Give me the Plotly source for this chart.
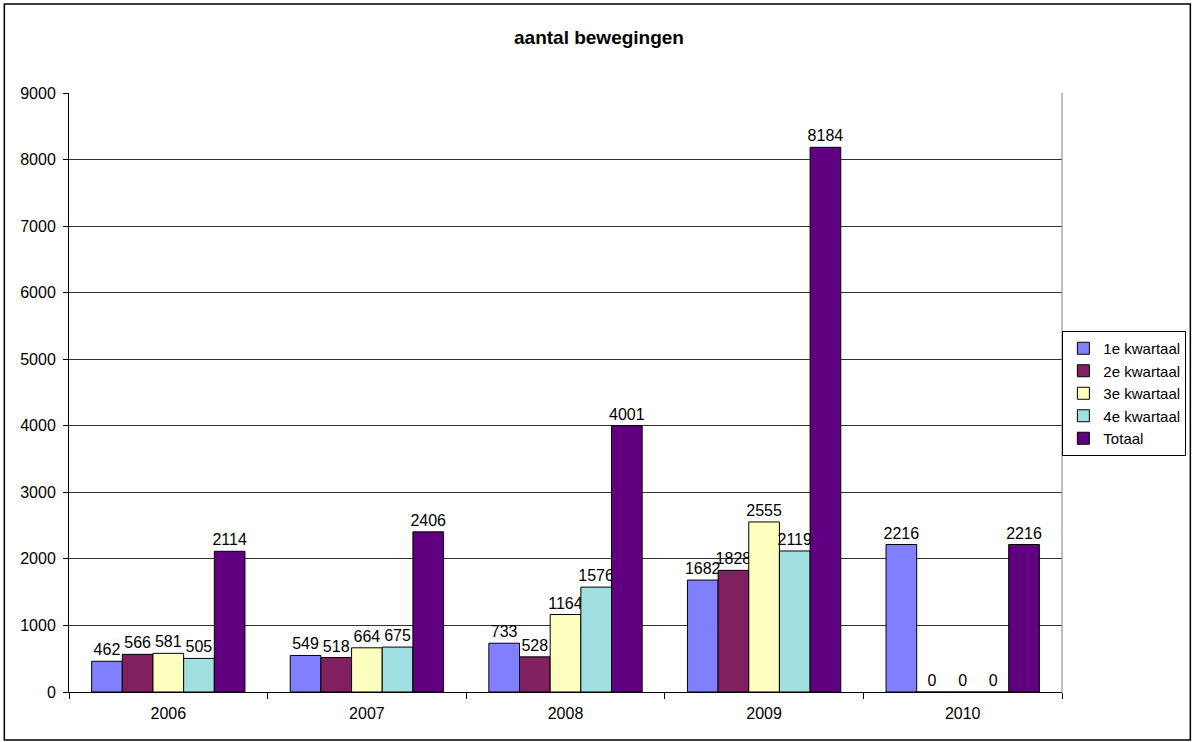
import plotly.graph_objects as go

years = ["2006", "2007", "2008", "2009", "2010"]
series_names = ["1e kwartaal", "2e kwartaal", "3e kwartaal", "4e kwartaal", "Totaal"]
q1 = [462, 549, 733, 1682, 2216]
q2 = [566, 518, 528, 1828, 0]
q3 = [581, 664, 1164, 2555, 0]
q4 = [505, 675, 1576, 2119, 0]
totaal = [2114, 2406, 4001, 8184, 2216]
colors = ["#8080FF", "#802060", "#FFFFC0", "#A0E0E0", "#600080"]

W, H = 1198, 742
L, R, T, B = 69, 1067, 93, 692
FONT = "Liberation Sans, Arial, sans-serif"

fig = go.Figure()
for name, vals, col in zip(series_names, [q1, q2, q3, q4, totaal], colors):
    fig.add_trace(go.Bar(
        x=years, y=vals, name=name,
        marker=dict(color=col, line=dict(color="black", width=1)),
        text=[str(v) for v in vals], textposition="outside",
        textfont=dict(family=FONT, size=16, color="black"),
        constraintext="none",
        cliponaxis=False,
    ))

def px_x(p):
    return (p - L) / (R - L)

def px_y(p):
    return (B - p) / (B - T)

fig.update_layout(
    width=W, height=H,
    margin=dict(l=L, r=W - R, t=T, b=H - B),
    paper_bgcolor="white", plot_bgcolor="white",
    barmode="group", bargap=0.228, bargroupgap=0,
    font=dict(family=FONT, size=16, color="black"),
    title=dict(text="<b>aantal bewegingen</b>", x=0.5, xanchor="center",
               y=1 - 37 / H, yanchor="middle",
               font=dict(family=FONT, size=19, color="black")),
    xaxis=dict(showline=True, linecolor="black", linewidth=1,
               ticks="outside", tickson="boundaries", ticklen=6, tickcolor="black",
               showgrid=False, tickfont=dict(size=16), ticklabelstandoff=7),
    yaxis=dict(range=[0, 9000], dtick=1000, showline=True, linecolor="black",
               linewidth=1, ticks="outside", ticklen=5, tickcolor="black",
               showgrid=True, gridcolor="#333333", gridwidth=1, zeroline=False,
               tickfont=dict(size=16), ticklabelstandoff=4),
    legend=dict(x=px_x(1192), y=px_y(331), xanchor="right", yanchor="top",
                bordercolor="black", borderwidth=1, bgcolor="white",
                font=dict(family=FONT, size=15), tracegroupgap=0,
                itemwidth=30),
    shapes=[
        dict(type="line", xref="paper", yref="paper", x0=1, x1=1, y0=0, y1=1,
             line=dict(color="#808080", width=1)),
        dict(type="rect", xref="paper", yref="paper",
             x0=px_x(4), x1=px_x(1196), y0=px_y(740), y1=px_y(4),
             line=dict(color="black", width=1.5), layer="below"),
    ],
)

fig.write_html("out.html", config={"displayModeBar": False},
               post_script="document.body.style.margin='0px';")
